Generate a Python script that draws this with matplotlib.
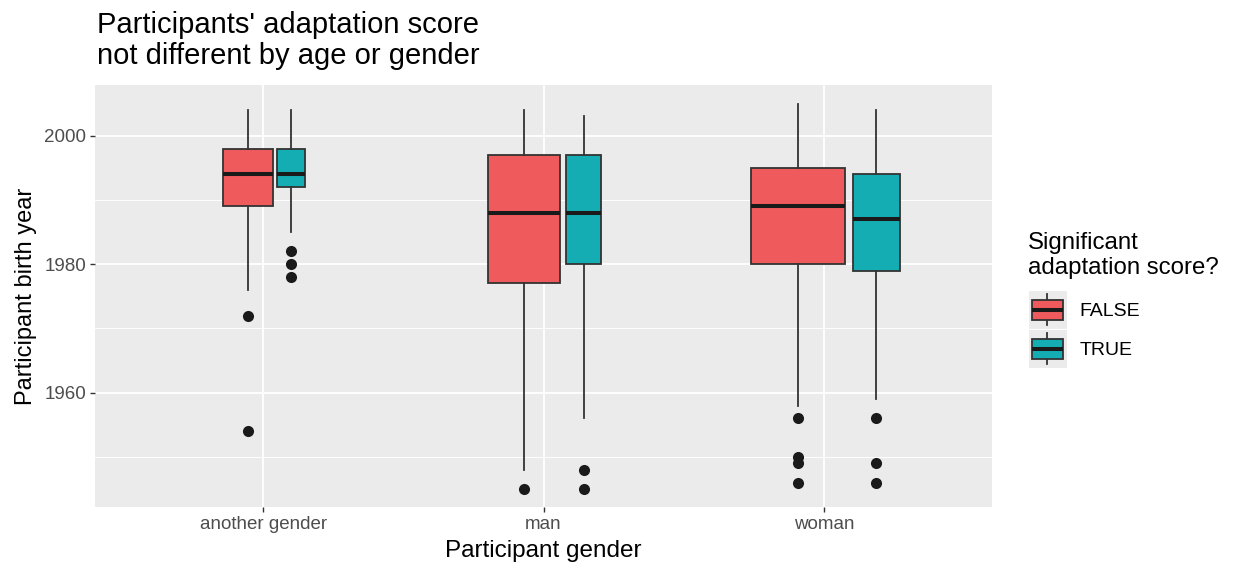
import numpy as np
import matplotlib.pyplot as plt
from matplotlib.patches import Rectangle, Patch
from matplotlib.lines import Line2D
from matplotlib.legend_handler import HandlerBase

plt.rcParams['font.family'] = ['Liberation Sans', 'DejaVu Sans']

genders = ['another gender', 'man', 'woman']
groups = ['FALSE', 'TRUE']
fills = ['#EF5A5C', '#14ADB4']

# per gender: [FALSE, TRUE]
n_obs = [[111, 35], [232, 56], [400, 96]]
whis_lo = [[1976, 1985], [1948, 1956], [1958, 1959]]
q1 = [[1989, 1992], [1977, 1980], [1980, 1979]]
med = [[1994, 1994], [1988, 1988], [1989, 1987]]
q3 = [[1998, 1998], [1997, 1997], [1995, 1994]]
whis_hi = [[2004, 2004], [2004, 2003], [2005, 2004]]
outliers = [[[1972, 1954], [1982, 1980, 1978]],
            [[1945], [1948, 1945]],
            [[1956, 1950, 1949, 1946], [1956, 1949, 1946]]]

edge = '#333333'
max_w = 0.338
n_max = max(max(r) for r in n_obs)

fig = plt.figure(figsize=(12.34, 5.67), dpi=100)
ax = fig.add_axes([95/1234, 1 - 507/567, (992-95)/1234, (507-85)/567])
ax.set_facecolor('#EBEBEB')

for g, gname in enumerate(genders):
    x = g + 1
    # varwidth boxes, dodged side by side (like ggplot position_dodge2)
    w = [np.sqrt(n) / np.sqrt(n_max) * max_w for n in n_obs[g]]
    W = [wi / 0.9 for wi in w]
    left = x - sum(W) / 2
    for k in range(2):
        c = left + sum(W[:k]) + W[k] / 2
        st = dict(med=med[g][k], q1=q1[g][k], q3=q3[g][k],
                  whislo=whis_lo[g][k], whishi=whis_hi[g][k],
                  fliers=outliers[g][k])
        ax.bxp([st], positions=[c], widths=[w[k]], patch_artist=True,
               showcaps=False, manage_ticks=False,
               boxprops=dict(facecolor=fills[k], edgecolor=edge, lw=1.3),
               medianprops=dict(color='#1A1A1A', lw=2.9, solid_capstyle='butt'),
               whiskerprops=dict(color=edge, lw=1.3),
               flierprops=dict(marker='o', markerfacecolor='#1A1A1A',
                               markeredgecolor='none', markersize=8),
               zorder=3)

ax.set_xlim(0.4, 3.6)
ax.set_ylim(1942.2, 2007.9)
ax.set_xticks([1, 2, 3])
ax.set_xticklabels(genders)
ax.set_yticks([1960, 1980, 2000])
ax.set_yticks([1950, 1970, 1990], minor=True)
ax.grid(which='major', color='white', lw=1.3, zorder=0)
ax.grid(which='minor', axis='y', color='white', lw=0.65, zorder=0)
ax.set_axisbelow(True)
for s in ax.spines.values():
    s.set_visible(False)
ax.tick_params(which='major', length=3.5, color=edge, labelsize=13.5,
               labelcolor='#4D4D4D', width=1.0, pad=3)
ax.tick_params(which='minor', length=0)

ax.set_xlabel('Participant gender', fontsize=17.5, color='black', labelpad=5)
ax.set_ylabel('Participant birth year', fontsize=17, color='black', labelpad=5)

fig.text(97/1234, 1 - 11/567, "Participants' adaptation score\nnot different by age or gender",
         ha='left', va='top', fontsize=21, linespacing=1.15)


class BoxKey(HandlerBase):
    def create_artists(self, legend, orig_handle, xdescent, ydescent,
                       width, height, fontsize, trans):
        x0, y0 = -xdescent, -ydescent
        bg = Rectangle((x0, y0), width, height, fc='#EBEBEB', ec='white',
                       lw=0.8, transform=trans)
        cx = x0 + width / 2
        cy = y0 + height / 2
        bw = width * 0.78
        bh = height * 0.5
        wl = Line2D([cx, cx], [y0 + height * 0.1, y0 + height * 0.9],
                    color=edge, lw=1.3, transform=trans)
        box = Rectangle((cx - bw / 2, cy - bh / 2), bw, bh,
                        fc=orig_handle.get_facecolor(), ec=edge, lw=1.3,
                        transform=trans)
        ml = Line2D([cx - bw / 2, cx + bw / 2], [cy, cy], color='#1A1A1A',
                    lw=2.9, solid_capstyle='butt', transform=trans)
        return [bg, wl, box, ml]


handles = [Patch(facecolor=f) for f in fills]
leg = fig.legend(handles, groups, loc='upper left',
                 bbox_to_anchor=(1026/1234, 1 - 230/567),
                 title='Significant\nadaptation score?', title_fontsize=17.3,
                 fontsize=14, frameon=False, handler_map={Patch: BoxKey()},
                 handlelength=2.0, handleheight=2.7, labelspacing=0.0,
                 handletextpad=0.65, borderaxespad=0, borderpad=0.1)
leg._legend_box.align = 'left'
leg._legend_box.sep = 8

fig.savefig('out.png', dpi=100)
